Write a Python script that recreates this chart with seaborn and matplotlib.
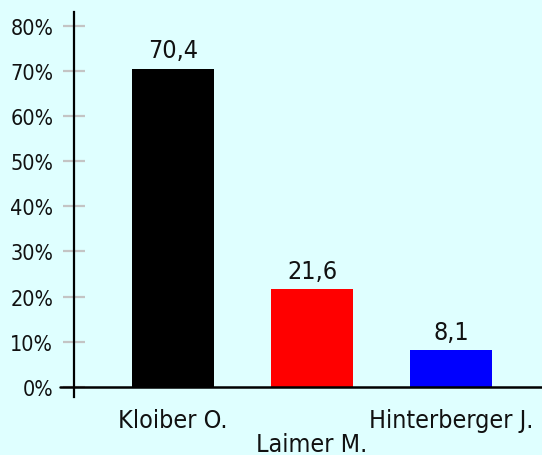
import matplotlib
matplotlib.use("Agg")
import matplotlib.pyplot as plt
import matplotlib.transforms as mtransforms
import seaborn as sns
import pandas as pd

candidates = ["Kloiber O.", "Laimer M.", "Hinterberger J."]
shares = [70.4, 21.6, 8.1]
value_labels = ["70,4", "21,6", "8,1"]
bar_colors = ["#000000", "#ff0000", "#0000ff"]
y_ticks = [0, 10, 20, 30, 40, 50, 60, 70, 80]
y_tick_labels = [f"{v}%" for v in y_ticks]

bg = "#dfffff"
sns.set_style("white")
plt.rcParams["font.family"] = ["DejaVu Sans"]
plt.rcParams["font.stretch"] = "condensed"

df = pd.DataFrame({"name": candidates, "share": shares})

fig = plt.figure(figsize=(5.42, 4.56), dpi=100, facecolor=bg)
ax = fig.add_axes([74 / 542, (456 - 398) / 456, (542 - 74) / 542, (398 - 13) / 456])
ax.set_facecolor(bg)

sns.barplot(data=df, x="name", y="share", hue="name", palette=bar_colors,
            order=candidates, hue_order=candidates, width=0.59,
            saturation=1, legend=False, ax=ax, linewidth=0)

ax.set_xlim(-0.712, 2.655)
ax.set_ylim(-2.21, 83.0)

for i, (v, lab) in enumerate(zip(shares, value_labels)):
    ax.annotate(lab, xy=(i, v), xytext=(0, 8.5), textcoords="offset points",
                ha="center", va="baseline", fontsize=18, color="#111111",
                fontstretch="condensed")

ax.set_yticks(y_ticks)
ax.set_yticklabels(y_tick_labels)
ax.tick_params(axis="y", left=True, direction="inout", length=15.8, width=1.6,
               color="#c4c4c4", pad=7, labelsize=15.5, labelcolor="#111111")
ax.tick_params(axis="x", bottom=False, length=0, pad=8, labelsize=18, labelcolor="#111111")
ax.set_xlabel("")
ax.set_ylabel("")

for lab in ax.get_xticklabels() + ax.get_yticklabels():
    lab.set_fontstretch("condensed")

labels = ax.get_xticklabels()
off = mtransforms.ScaledTranslation(0, -0.24, fig.dpi_scale_trans)
labels[1].set_transform(labels[1].get_transform() + off)

for s in ["top", "right", "bottom"]:
    ax.spines[s].set_visible(False)
ax.spines["left"].set_color("black")
ax.spines["left"].set_linewidth(1.6)
ax.spines["left"].set_zorder(5)

ax.axhline(0, xmin=-14 / 468, xmax=1, color="black", lw=1.8, clip_on=False, zorder=6)
ax.grid(False)

fig.savefig("out.png", dpi=100, facecolor=bg)
